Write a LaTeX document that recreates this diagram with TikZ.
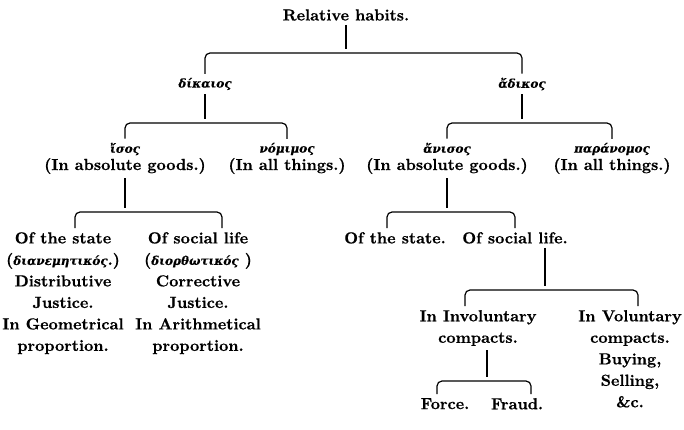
\documentclass[tikz,border=0pt]{standalone}
\usepackage{fontspec}
\newfontfamily\gkfont{DejaVu Serif}[FakeBold=0.4]
\newfontfamily\hvfont{lmroman10-bold}[Extension=.otf, FakeBold=0.6]
\tikzset{
  lbl/.style={font=\fontsize{16}{21.5}\selectfont\hvfont, align=center, inner sep=1pt},
  gk/.style={font=\fontsize{12}{14}\selectfont\gkfont\bfseries\itshape, inner sep=1pt},
  brk/.style={line width=1.2pt, rounded corners=5pt, shorten <=3pt, shorten >=3pt},
  stm/.style={line width=2.4pt, shorten <=3pt, shorten >=4pt},
}
\newcommand{\gkin}[1]{{\fontsize{12}{21.5}\selectfont\gkfont\bfseries\itshape #1}}
\begin{document}
\begin{tikzpicture}[x=1pt,y=-1pt]
\useasboundingbox (0,0) rectangle (684,429);
% level 0
\node[lbl] (title) at (346,15) {Relative habits.};
\coordinate (bA) at (346,53);
\draw[stm] (title.south) -- (bA);
% level 1
\node[gk] (dik) at (205,84) {δίκαιος};
\node[gk] (adik) at (522,84) {ἄδικος};
\draw[brk] (dik.north) |- (bA) -| (adik.north);
% level 2 left
\coordinate (bB) at (205,123);
\draw[stm] (dik.south) -- (bB);
\node[gk] (isos) at (125,149) {ἴσος};
\node[gk] (nom) at (287,149) {νόμιμος};
\draw[brk] (isos.north) |- (bB) -| (nom.north);
\node[lbl] (absL) at (125,166) {(In absolute goods.)};
\node[lbl] (allL) at (287,166) {(In all things.)};
% level 2 right
\coordinate (bC) at (522,123);
\draw[stm] (adik.south) -- (bC);
\node[gk] (anis) at (447,149) {ἄνισος};
\node[gk] (para) at (612,149) {παράνομος};
\draw[brk] (anis.north) |- (bC) -| (para.north);
\node[lbl] (absR) at (447,166) {(In absolute goods.)};
\node[lbl] (allR) at (612,166) {(In all things.)};
% level 3 left
\coordinate (bD) at (125,212);
\draw[stm] (absL.south) -- (bD);
\node[lbl, anchor=north] (stateL) at (63,231) {Of the state\\(\gkin{διανεμητικός}.)\\Distributive\\Justice.\\In Geometrical\\proportion.};
\node[lbl, anchor=north] (socL) at (198,231) {Of social life\\(\gkin{διορθωτικός} )\\Corrective\\Justice.\\In Arithmetical\\proportion.};
\draw[brk] ([xshift=12pt]stateL.north) |- (bD) -| ([xshift=24pt]socL.north);
% level 3 right
\coordinate (bE) at (447,212);
\draw[stm] (absR.south) -- (bE);
\node[lbl, anchor=north] (stateR) at (395,231) {Of the state.};
\node[lbl, anchor=north] (socR) at (515,231) {Of social life.};
\draw[brk] ([xshift=-8pt]stateR.north) |- (bE) -| (socR.north);
% level 4
\coordinate (bF) at (545,290);
\draw[stm] (socR.south -| bF) -- (bF);
\node[lbl, anchor=north] (invol) at (478,309) {In Involuntary\\compacts.};
\node[lbl, anchor=north] (vol) at (630,309) {In Voluntary\\compacts.\\Buying,\\Selling,\\\&c.};
\draw[brk] ([xshift=-13pt]invol.north) |- (bF) -| ([xshift=8pt]vol.north);
% level 5
\coordinate (bG) at (487,381);
\draw[stm] (invol.south -| bG) -- (bG);
\node[lbl, anchor=north] (force) at (445,397) {Force.};
\node[lbl, anchor=north] (fraud) at (517,397) {Fraud.};
\draw[brk] ([xshift=-8pt]force.north) |- (bG) -| ([xshift=14pt]fraud.north);
\end{tikzpicture}
\end{document}
